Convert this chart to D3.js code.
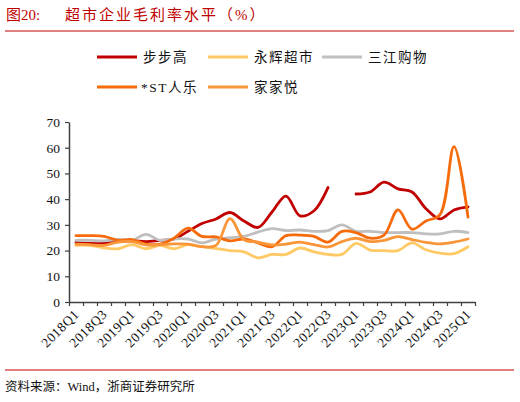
<!DOCTYPE html>
<html><head><meta charset="utf-8">
<script src="https://cdn.jsdelivr.net/npm/d3@7"></script>
<style>
body{margin:0;background:#fff;}
svg{display:block;}
text{font-family:"Liberation Serif","Noto Sans CJK SC",serif;}
</style></head>
<body>
<svg id="c" width="520" height="402"></svg>
<script>
const quarters = ["2018Q1","2018Q2","2018Q3","2018Q4","2019Q1","2019Q2","2019Q3","2019Q4",
"2020Q1","2020Q2","2020Q3","2020Q4","2021Q1","2021Q2","2021Q3","2021Q4",
"2022Q1","2022Q2","2022Q3","2022Q4","2023Q1","2023Q2","2023Q3","2023Q4",
"2024Q1","2024Q2","2024Q3","2024Q4","2025Q1"];
const xTickLabels = ["2018Q1","2018Q3","2019Q1","2019Q3","2020Q1","2020Q3","2021Q1","2021Q3",
"2022Q1","2022Q3","2023Q1","2023Q3","2024Q1","2024Q3","2025Q1"];
const yTicks = [0,10,20,30,40,50,60,70];
const seriesNames = ["步步高","永辉超市","三江购物","*ST人乐","家家悦"];
const bubugao = [23.2,22.8,22.8,23.5,23.8,23.5,24,24.5,27.5,30.5,32.3,34.8,31.5,29,35,41.2,33.5,35.5,44.5,null,42,42.8,46.6,44,42.8,36.3,32.3,35.8,37];
const yonghui = [22,22,21,20.7,22.3,20.7,22,20.7,22.3,21.5,20.8,20,19.5,17.2,18.5,18.5,21,19.5,18.5,18.5,22.8,20.2,20,20,23,20.3,19,18.8,21.5];
const sanjiang = [24,24,23.8,24.3,24,26.3,24,24.5,24.5,23,24.5,25,25.5,27.2,28.5,27.8,28,27.5,27.8,30,27.5,27.5,27,27,27,26.5,26.5,27.5,27];
const renle = [25.8,25.8,25.5,24,24.3,22.5,22.5,24.8,28.7,25.5,25.3,23.8,24.5,23,21.5,25.8,26,25.5,23.3,27.5,27,24.8,26,35.8,28.3,31.5,34,60.4,33];
const jiajiayue = [22.5,22.3,22,23.3,23.5,22.2,22.3,22.6,22.5,21.5,22,32.4,24.2,23.3,22.2,22.5,23.3,22.3,21.4,23.5,24.8,23.5,24,25.4,24.3,23.2,22.6,23.3,24.5];
const colors = ["#C00000","#FFC966","#BFBFBF","#F66C0C","#F9963A"];

const svg = d3.select("#c");
const red = "#C00000";
// title
svg.append("text").attr("x",6).attr("y",20).attr("fill",red).attr("font-size",15).text("图20:");
svg.append("text").attr("x",65).attr("y",20).attr("fill",red).attr("font-size",15)
  .attr("letter-spacing",2).text("超市企业毛利率水平（%）");
svg.append("line").attr("x1",5).attr("x2",514).attr("y1",31).attr("y2",31).attr("stroke",red).attr("stroke-width",1);
svg.append("line").attr("x1",5).attr("x2",514).attr("y1",370).attr("y2",370).attr("stroke",red).attr("stroke-width",1);
svg.append("text").attr("x",5).attr("y",391).attr("fill","#111").attr("font-size",12.5)
  .text("资料来源：Wind，浙商证券研究所");

const x = d3.scaleBand().domain(quarters).range([69,475]).paddingInner(0).paddingOuter(0);
const xl = d3.scaleLinear().domain([0,quarters.length]).range([69,475]);
const y = d3.scaleLinear().domain([0,70]).range([302,122]);
const axisColor = "#404040";

const gy = svg.append("g").attr("transform","translate(69,0)")
  .call(d3.axisLeft(y).tickValues(yTicks).tickSize(4).tickSizeOuter(0).tickPadding(5));
gy.select(".domain").attr("stroke",axisColor).attr("stroke-width",1.5);
gy.selectAll(".tick line").attr("stroke",axisColor).attr("stroke-width",1.2);
gy.selectAll(".tick text").attr("font-size",13.5).attr("fill","#111").attr("font-family","Liberation Serif");

const gx = svg.append("g").attr("transform","translate(0,302)")
  .call(d3.axisBottom(xl).tickValues(d3.range(quarters.length+1)).tickSize(4).tickSizeOuter(0).tickFormat(""));
gx.select(".domain").attr("stroke",axisColor).attr("stroke-width",1.5);
gx.selectAll(".tick line").attr("stroke",axisColor).attr("stroke-width",1.2);

svg.append("g").selectAll("text").data(xTickLabels).join("text")
  .attr("transform",d=>`translate(${x(d)+x.bandwidth()/2+4},${315}) rotate(-45)`)
  .attr("text-anchor","end").attr("font-size",13.5).attr("letter-spacing",0.6).attr("fill","#111")
  .attr("font-family","Liberation Serif").text(d=>d);

const all = [bubugao,yonghui,sanjiang,renle,jiajiayue];
const line = d3.line().defined(d=>d.v!=null)
  .x(d=>x(d.q)+x.bandwidth()/2).y(d=>y(d.v)).curve(d3.curveCatmullRom.alpha(0.5));
all.forEach((vals,k)=>{
  const data = quarters.map((q,i)=>({q,v:vals[i]}));
  svg.append("path").datum(data).attr("d",line).attr("fill","none")
    .attr("stroke",colors[k]).attr("stroke-width",2.8).attr("stroke-linejoin","round").attr("stroke-linecap","round");
});

// legend
const leg = [{n:0,x:97,y:57},{n:1,x:208,y:57},{n:2,x:322,y:57},{n:3,x:97,y:87},{n:4,x:208,y:87}];
leg.forEach(l=>{
  svg.append("line").attr("x1",l.x).attr("x2",l.x+40).attr("y1",l.y).attr("y2",l.y)
    .attr("stroke",colors[l.n]).attr("stroke-width",2.8);
  svg.append("text").attr("x",l.x+(l.n===3?44:46)).attr("y",l.y+5).attr("font-size",13.5)
    .attr("letter-spacing",1.5).attr("fill","#111").text(seriesNames[l.n]);
});
</script>
</body></html>
